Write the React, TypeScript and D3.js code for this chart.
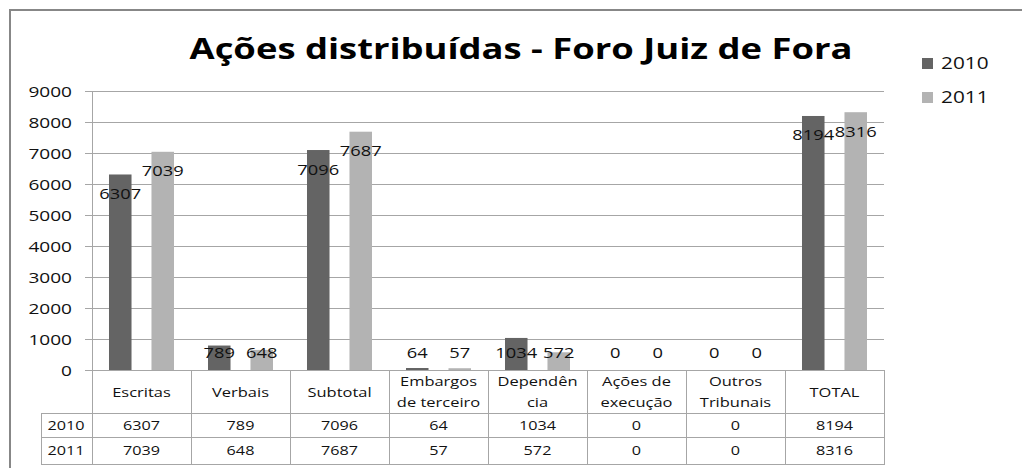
import React from "react";
import * as d3 from "d3";

const categories = ["Escritas", "Verbais", "Subtotal", "Embargos\nde terceiro", "Dependên\ncia", "Ações de\nexecução", "Outros\nTribunais", "TOTAL"];
const series = ["2010", "2011"];
const values2010 = [6307, 789, 7096, 64, 1034, 0, 0, 8194];
const values2011 = [7039, 648, 7687, 57, 572, 0, 0, 8316];
const yTicks = [0, 1000, 2000, 3000, 4000, 5000, 6000, 7000, 8000, 9000];
const colors = ["#646464", "#b3b3b3"];
const title = "Ações distribuídas - Foro Juiz de Fora";

const FONT = "'Open Sans', sans-serif";
const SX = 1.24;

function T({ x, y, children, size, anchor = "middle", weight = 400, sx = SX, fill = "#111" }: any) {
  return (
    <text
      transform={`translate(${x},${y}) scale(${sx},1)`}
      textAnchor={anchor}
      fontSize={size}
      fontWeight={weight}
      fontFamily={FONT}
      fill={fill}
    >
      {children}
    </text>
  );
}

export default function App() {
  const left = 92, right = 884, top = 91, bottom = 370;
  const x0 = d3.scaleBand<string>().domain(categories).range([left, right]).padding(0);
  const x1 = d3.scaleBand<string>().domain(series).range([0, x0.bandwidth()]).paddingInner(0.47).paddingOuter(0.4);
  const y = d3.scaleLinear().domain([0, 9000]).range([bottom, top]);
  const data = [values2010, values2011];
  const rowH = [413, 437, 464];
  const tableLeft = 41;

  return (
    <svg width={1022} height={468} style={{ position: "absolute", left: 0, top: 0, background: "#fff" }}>
      <rect x={0} y={0} width={1022} height={468} fill="#fff" />
      <rect x={10} y={10} width={1100} height={600} fill="none" stroke="#878787" strokeWidth={2} />
      {/* title */}
      <T x={521} y={59} size={29} weight={700} sx={1.255} fill="#000">{title}</T>
      {/* gridlines */}
      {yTicks.map((t) => (
        <g key={t}>
          <line x1={85} x2={right} y1={Math.round(y(t)) + 0.5} y2={Math.round(y(t)) + 0.5} stroke="#a6a6a6" strokeWidth={1} />
          <T x={72} y={y(t) + 5.5} size={15} anchor="end" sx={1.27}>{t}</T>
        </g>
      ))}
      {/* bars */}
      {categories.map((c, i) => (
        <g key={c}>
          {series.map((s, j) => {
            const v = data[j][i];
            const bx = (x0(c) as number) + (x1(s) as number);
            const bw = x1.bandwidth();
            return (
              <g key={s}>
                <rect x={bx} y={y(v)} width={bw} height={y(0) - y(v)} fill={colors[j]} />
                <T x={bx + bw / 2} y={Math.min(y(v) + 19, y(0) - 18) + 5.5} size={15} sx={1.22}>{v}</T>
              </g>
            );
          })}
        </g>
      ))}
      {/* axis line */}
      <line x1={left + 0.5} x2={left + 0.5} y1={top} y2={rowH[2]} stroke="#a6a6a6" />
      {/* table */}
      {categories.map((c, i) => (
        <line key={"v" + i} x1={(x0(c) as number) + x0.bandwidth() + 0.5} x2={(x0(c) as number) + x0.bandwidth() + 0.5} y1={bottom} y2={rowH[2]} stroke="#a6a6a6" />
      ))}
      <line x1={tableLeft + 0.5} x2={tableLeft + 0.5} y1={rowH[0]} y2={rowH[2]} stroke="#a6a6a6" />
      {rowH.map((h) => (
        <line key={h} x1={tableLeft} x2={right + 1} y1={h + 0.5} y2={h + 0.5} stroke="#a6a6a6" />
      ))}
      {categories.map((c, i) => {
        const cx = (x0(c) as number) + x0.bandwidth() / 2;
        const lines = c.split("\n");
        return (
          <g key={"c" + i}>
            {lines.length === 1 ? (
              <T x={cx} y={397} size={13.5} sx={1.22}>{lines[0]}</T>
            ) : (
              lines.map((l, k) => (
                <T key={k} x={cx} y={386 + k * 21} size={13.5} sx={1.22}>{l}</T>
              ))
            )}
            {data.map((row, j) => (
              <T key={j} x={cx} y={(j === 0 ? 425 : 450) + 5} size={13.5} sx={1.2}>{row[i]}</T>
            ))}
          </g>
        );
      })}
      {series.map((s, j) => (
        <T key={s} x={66} y={(j === 0 ? 425 : 450) + 5} size={13.5} sx={1.2}>{s}</T>
      ))}
      {/* legend */}
      {series.map((s, j) => (
        <g key={"l" + s}>
          <rect x={922} y={58 + j * 34} width={11} height={11} fill={colors[j]} />
          <T x={941} y={69 + j * 34} size={16} anchor="start" sx={1.3}>{s}</T>
        </g>
      ))}
    </svg>
  );
}
